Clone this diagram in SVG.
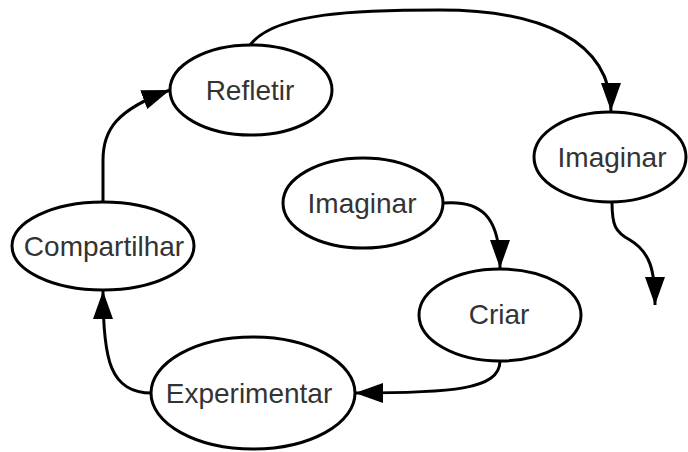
<svg xmlns="http://www.w3.org/2000/svg" width="688" height="452" viewBox="0 0 688 452">
<style>
.node ellipse{fill:#fff;stroke:#000;stroke-width:3}
.node text{font-family:"Liberation Sans",Arial,sans-serif;font-size:28px;fill:#333;text-anchor:middle}
.edge{fill:none;stroke:#000;stroke-width:3;marker-end:url(#arrow)}
</style>
<defs>
<marker id="arrow" viewBox="0 0 28 20" refX="28" refY="10" markerWidth="28" markerHeight="20" markerUnits="userSpaceOnUse" orient="auto">
<path d="M0,0 L28,10 L0,20 z" fill="#000"/>
</marker>
</defs>
<g id="connectors">
<path class="edge" d="M250,45 C275,12 360,10 440,10 C540,10 611,40 611,111"/>
<path class="edge" d="M103,202 L103,160 C103,130 116,110 170,90"/>
<path class="edge" d="M443,203 C480,200 500,215 500,268"/>
<path class="edge" d="M500,361 C500,390 450,393 355,393"/>
<path class="edge" d="M152,393 C110,393 103,360 103,291"/>
<path class="edge" d="M612,202 C612,225 615,232 630,240 C650,252 655,270 655,305"/>
</g>
<g id="refletir" class="node"><ellipse cx="251" cy="90" rx="81" ry="45"/><text x="250" y="100">Refletir</text></g>
<g id="imaginar-right" class="node"><ellipse cx="610" cy="157" rx="76" ry="45"/><text x="612" y="167">Imaginar</text></g>
<g id="imaginar-center" class="node"><ellipse cx="363" cy="203" rx="80" ry="45"/><text x="362" y="213">Imaginar</text></g>
<g id="compartilhar" class="node"><ellipse cx="103" cy="246" rx="91" ry="44"/><text x="104" y="256">Compartilhar</text></g>
<g id="criar" class="node"><ellipse cx="500" cy="315" rx="81" ry="46"/><text x="499" y="324">Criar</text></g>
<g id="experimentar" class="node"><ellipse cx="253" cy="393" rx="102" ry="56"/><text x="249" y="403">Experimentar</text></g>
</svg>
